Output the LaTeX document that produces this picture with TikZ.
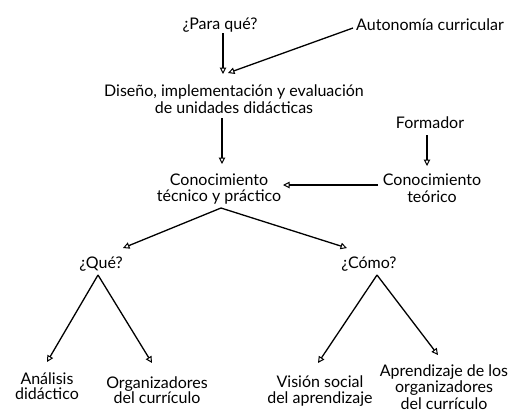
\documentclass[tikz,border=0pt]{standalone}
\usepackage{fontspec}
\setmainfont{Lato}
\usetikzlibrary{arrows.meta}
\begin{document}
\begin{tikzpicture}[x=1pt,y=-1pt,
  lbl/.style={align=center,inner sep=0pt,font=\fontsize{16}{16.5}\selectfont},
  mid/.style={align=center,inner sep=0pt,font=\fontsize{16}{15.5}\selectfont},
  tight/.style={align=center,inner sep=0pt,font=\fontsize{16}{14.5}\selectfont},
  arr/.style={line width=1.3pt,-{Triangle[open,length=6.5pt,width=6.5pt,line width=1pt]}}]
\useasboundingbox (0,0) rectangle (532,416);
\node[lbl] (pq) at (220,25) {¿Para qué?};
\node[lbl] (auto) at (430,25) {Autonomía curricular};
\node[lbl] (dis) at (234,99) {Diseño, implementación y evaluación\\de unidades didácticas};
\node[lbl] (form) at (430,123) {Formador};
\node[lbl] (ctp) at (219,189) {Conocimiento\\técnico y práctico};
\node[lbl] (cte) at (432,188) {Conocimiento\\teórico};
\node[lbl] (que) at (101,264) {¿Qué?};
\node[lbl] (como) at (369,264) {¿Cómo?};
\node[tight] (ana) at (47,386) {Análisis\\didáctico};
\node[mid] (org) at (157,390) {Organizadores\\del currículo};
\node[mid] (vis) at (320,391) {Visión social\\del aprendizaje};
\node[lbl] (apr) at (444,387) {Aprendizaje de los\\organizadores\\del currículo};
% connector ends
\coordinate (pqS) at (223,33);
\coordinate (disN) at (223,74);
\coordinate (disN2) at (228,73);
\coordinate (autoW) at (353,28);
\coordinate (disS) at (222,118);
\coordinate (ctpN) at (222,164);
\coordinate (formS) at (427,135);
\coordinate (cteN) at (427,166);
\coordinate (cteW) at (378,185);
\coordinate (ctpE) at (283,185);
\coordinate (ctpS) at (221,208);
\coordinate (queN) at (123,248);
\coordinate (comoN) at (347,248);
\coordinate (queS) at (98,275);
\coordinate (anaN) at (47,362);
\coordinate (orgN) at (152,363);
\coordinate (comoS) at (377,275);
\coordinate (visN) at (318,363);
\coordinate (aprN) at (438,355);
\draw[arr] (pqS) -- (disN);
\draw[arr] (autoW) -- (disN2);
\draw[arr] (disS) -- (ctpN);
\draw[arr] (formS) -- (cteN);
\draw[arr] (cteW) -- (ctpE);
\draw[arr] (ctpS) -- (queN);
\draw[arr] (ctpS) -- (comoN);
\draw[arr] (queS) -- (anaN);
\draw[arr] (queS) -- (orgN);
\draw[arr] (comoS) -- (visN);
\draw[arr] (comoS) -- (aprN);
\end{tikzpicture}
\end{document}
